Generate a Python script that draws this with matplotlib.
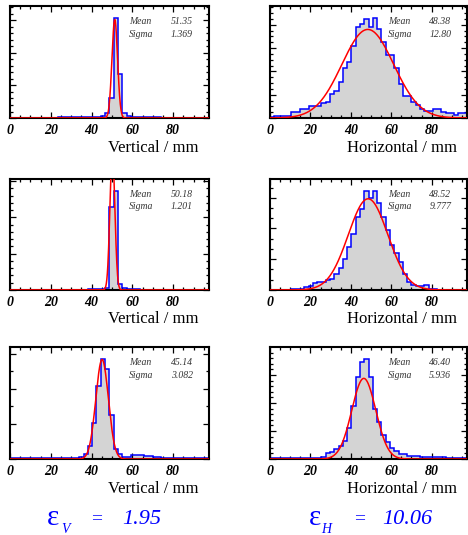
import numpy as np
import matplotlib
matplotlib.use('Agg')
import matplotlib.pyplot as plt
from matplotlib.ticker import MultipleLocator

plt.rcParams['font.family'] = ['Liberation Serif', 'DejaVu Serif']

# binning of the profiles (mm)
x_lo, x_hi, n_bins = 0.0, 97.5, 46

# bin contents, one list per panel
v1_counts = [0, 0, 0, 0, 0, 0, 0, 0, 0, 0,
             0, 3, 3, 3, 3, 3, 3, 3, 3, 3,
             3, 5, 14, 62, 308, 134, 14, 5, 3, 3,
             3, 3, 3, 3, 3, 0, 0, 0, 0, 0,
             0, 0, 0, 0, 0, 0]
h1_counts = [1, 2, 2, 2, 2, 5, 5, 8, 8, 10,
             10, 10, 13, 14, 21, 23, 31, 43, 48, 62,
             78, 81, 85, 78, 86, 76, 65, 54, 54, 43,
             29, 19, 19, 14, 11, 8, 6, 6, 8, 8,
             5, 4, 4, 3, 4, 4]
v2_counts = [0, 0, 0, 0, 0, 0, 0, 0, 0, 0,
             0, 0, 0, 0, 0, 0, 0, 0, 3, 3,
             3, 3, 6, 228, 274, 16, 6, 3, 3, 3,
             0, 0, 0, 0, 0, 0, 0, 0, 0, 0,
             0, 0, 0, 0, 0, 0]
h2_counts = [0, 0, 0, 0, 0, 1, 1, 1, 3, 4,
             7, 8, 8, 10, 11, 16, 21, 30, 42, 55,
             71, 79, 97, 90, 97, 85, 71, 59, 44, 36,
             27, 16, 8, 5, 4, 4, 5, 1, 1, 0,
             0, 0, 0, 0, 0, 0]
v3_counts = [1, 1, 1, 1, 1, 1, 1, 1, 1, 1,
             2, 2, 2, 2, 2, 2, 3, 7, 19, 52,
             104, 143, 129, 63, 14, 7, 3, 3, 6, 6,
             6, 5, 4, 3, 3, 2, 2, 2, 2, 2,
             2, 2, 2, 2, 2, 2]
h3_counts = [1, 1, 1, 1, 1, 1, 1, 1, 1, 1,
             1, 2, 4, 10, 12, 18, 24, 33, 56, 95,
             146, 174, 179, 146, 90, 66, 43, 30, 20, 14,
             9, 9, 6, 6, 6, 4, 4, 4, 4, 4,
             4, 2, 2, 2, 2, 2]

# gaussian fits: mean, sigma, amplitude
fit_mean = [51.35, 48.38, 50.18, 48.52, 45.14, 46.40]
fit_sigma = [1.369, 12.80, 1.201, 9.777, 3.082, 5.936]
fit_amp = [303, 76, 380, 89, 142, 144]
y_major = [100, 20, 100, 30, 50, 50]
y_minor = [20, 5, 20, 10, 25, 10]
mean_txt = ['51.35', '48.38', '50.18', '48.52', '45.14', '46.40']
sigma_txt = ['1.369', '12.80', '1.201', '9.777', '3.082', '5.936']
axis_names = ['Vertical / mm', 'Horizontal / mm'] * 3

emit_names = ['V', 'H']
emit_values = ['1.95', '10.06']

all_counts = [v1_counts, h1_counts, v2_counts, h2_counts, v3_counts, h3_counts]
edges = np.linspace(x_lo, x_hi, n_bins + 1)
xs = np.linspace(x_lo, x_hi, 800)

fig = plt.figure(figsize=(4.68, 5.35), dpi=100)

lefts = [0.0214, 0.577]
widths = [0.425, 0.421]
bottoms = [0.7794, 0.458, 0.142]
heights = [0.2093, 0.2075, 0.2093]

for k in range(6):
    row, col = k // 2, k % 2
    ax = fig.add_axes([lefts[col], bottoms[row], widths[col], heights[row]])
    counts = np.array(all_counts[k], dtype=float)

    ax.stairs(counts, edges, fill=True, color='#d4d4d4', zorder=1)
    ax.stairs(counts, edges, color='blue', lw=1.1, zorder=2)
    g = fit_amp[k] * np.exp(-0.5 * ((xs - fit_mean[k]) / fit_sigma[k]) ** 2)
    ax.plot(xs, g, color='red', lw=1.1, zorder=3)

    ax.set_xlim(x_lo, x_hi)
    ax.set_ylim(0, counts.max() * 1.117)

    ax.xaxis.set_major_locator(MultipleLocator(20))
    ax.xaxis.set_minor_locator(MultipleLocator(5))
    ax.yaxis.set_major_locator(MultipleLocator(y_major[k]))
    ax.yaxis.set_minor_locator(MultipleLocator(y_minor[k]))
    ax.tick_params(which='both', direction='in', top=True, right=True,
                   labelleft=False, width=0.9)
    ax.tick_params(which='major', length=4.5, pad=4.5)
    ax.tick_params(which='minor', length=2.2)
    for lbl in ax.get_xticklabels():
        lbl.set_fontsize(10)
        lbl.set_fontweight('bold')
        lbl.set_fontstyle('italic')
    for sp in ax.spines.values():
        sp.set_linewidth(1.5)

    ax.text(0.6, 0.86, 'Mean', transform=ax.transAxes, fontsize=7,
            style='italic', color='#333333', va='center', ha='left')
    ax.text(0.92, 0.86, mean_txt[k], transform=ax.transAxes, fontsize=7,
            style='italic', color='#333333', va='center', ha='right')
    ax.text(0.6, 0.75, 'Sigma', transform=ax.transAxes, fontsize=7,
            style='italic', color='#333333', va='center', ha='left')
    ax.text(0.92, 0.75, sigma_txt[k], transform=ax.transAxes, fontsize=7,
            style='italic', color='#333333', va='center', ha='right')

    ax.text(0.95, -0.265, axis_names[k], transform=ax.transAxes,
            fontsize=12, ha='right', va='center')

# emittance summary under each column
eps_x = [0.100, 0.660]
sub_dx = [0.032, 0.026]
eq_x = [0.207, 0.769]
val_x = [0.261, 0.816]
for i in range(2):
    fig.text(eps_x[i], 0.018, 'ε', fontsize=21, color='blue', va='baseline')
    fig.text(eps_x[i] + sub_dx[i], 0.004, emit_names[i], fontsize=10,
             style='italic', color='blue', va='baseline')
    fig.text(eq_x[i], 0.022, '=', fontsize=14, color='blue',
             ha='center', va='baseline')
    fig.text(val_x[i], 0.02, emit_values[i], fontsize=16, style='italic',
             color='blue', va='baseline')

fig.savefig('out.png', dpi=100)
